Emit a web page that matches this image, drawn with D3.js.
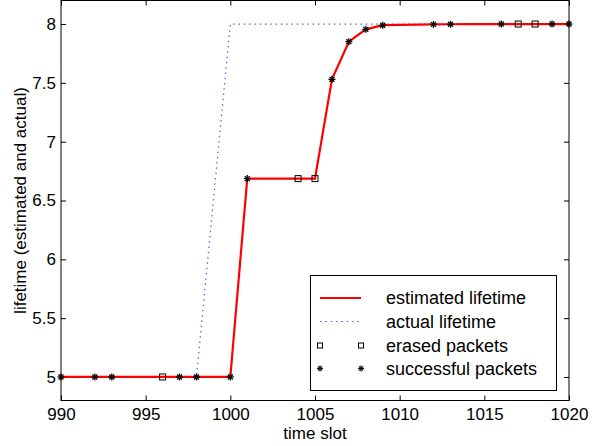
<!DOCTYPE html>
<html>
<head>
<meta charset="utf-8">
<script src="https://cdn.jsdelivr.net/npm/d3@7"></script>
<style>
  body { margin: 0; background: #fff; }
  text { font-family: "Liberation Sans", Arial, sans-serif; fill: #000; }
</style>
</head>
<body>
<svg id="chart"></svg>
<script>
// time slots and estimated lifetime at each slot
const slots = d3.range(990, 1021);
const estimated = [
  5, 5, 5, 5, 5, 5, 5, 5, 5, 5, 5,
  6.686, 6.686, 6.686, 6.686, 6.686,
  7.53, 7.85, 7.955, 7.99, 7.993, 7.995, 7.997, 7.998,
  8, 8, 8, 8, 8, 8, 8
];
// actual lifetime (step between 998 and 1000)
const actualSlots = [990, 998, 1000, 1020];
const actualValues = [5, 5, 8, 8];

const erasedSlots = [996, 1004, 1005, 1017, 1018];
const successSlots = [990, 992, 993, 997, 998, 1000, 1001, 1006, 1007, 1008, 1009, 1012, 1013, 1016, 1019, 1020];

const xTicks = [990, 995, 1000, 1005, 1010, 1015, 1020];
const yTicks = [5, 5.5, 6, 6.5, 7, 7.5, 8];
const legendLabels = ["estimated lifetime", "actual lifetime", "erased packets", "successful packets"];

const width = 600, height = 446;
const margin = { top: 0.5, right: 31, bottom: 45.5, left: 61 };

const svg = d3.select("#chart").attr("width", width).attr("height", height);

const x = d3.scaleLinear().domain([990, 1020]).range([margin.left, width - margin.right]);
const y = d3.scaleLinear().domain([4.8, 8.2]).range([height - margin.bottom, margin.top]);

const estBySlot = new Map(slots.map((s, i) => [s, estimated[i]]));

// axes (ticks inward, mirrored)
const tickLen = 5;
svg.append("g")
  .attr("transform", `translate(0,${y(4.8)})`)
  .call(d3.axisBottom(x).tickValues(xTicks).tickSize(-tickLen).tickPadding(7.5).tickFormat(d3.format("d")))
  .call(g => g.select(".domain").remove());
svg.append("g")
  .attr("transform", `translate(0,${y(8.2)})`)
  .call(d3.axisTop(x).tickValues(xTicks).tickSize(-tickLen).tickFormat(""))
  .call(g => g.select(".domain").remove());
svg.append("g")
  .attr("transform", `translate(${x(990)},0)`)
  .call(d3.axisLeft(y).tickValues(yTicks).tickSize(-tickLen).tickPadding(5).tickFormat(d => d))
  .call(g => g.select(".domain").remove());
svg.append("g")
  .attr("transform", `translate(${x(1020)},0)`)
  .call(d3.axisRight(y).tickValues(yTicks).tickSize(-tickLen).tickFormat(""))
  .call(g => g.select(".domain").remove());

svg.selectAll(".tick text").style("font-size", "17px").style("font-family", "Liberation Sans, Arial, sans-serif");
svg.selectAll(".tick line").attr("stroke", "#000");

// frame
svg.append("rect")
  .attr("x", x(990)).attr("y", y(8.2))
  .attr("width", x(1020) - x(990)).attr("height", y(4.8) - y(8.2))
  .attr("fill", "none").attr("stroke", "#000").attr("stroke-width", 1);

// actual lifetime
svg.append("path")
  .datum(actualSlots.map((s, i) => [s, actualValues[i]]))
  .attr("fill", "none")
  .attr("stroke", "#5a5aff")
  .attr("stroke-width", 1.2)
  .attr("stroke-dasharray", "1.5,3.8")
  .attr("d", d3.line().x(d => x(d[0])).y(d => y(d[1])));

// estimated lifetime
svg.append("path")
  .datum(slots.map((s, i) => [s, estimated[i]]))
  .attr("fill", "none")
  .attr("stroke", "#ff0000")
  .attr("stroke-width", 2.2)
  .attr("d", d3.line().x(d => x(d[0])).y(d => y(d[1])));

// markers
function star(g, size, sw) {
  const r = size / 2;
  for (let a = 0; a < 180; a += 45) {
    const t = a * Math.PI / 180;
    g.append("line")
      .attr("x1", -r * Math.cos(t)).attr("y1", -r * Math.sin(t))
      .attr("x2", r * Math.cos(t)).attr("y2", r * Math.sin(t))
      .attr("stroke", "#000").attr("stroke-width", sw);
  }
}
function square(g, size) {
  g.append("rect")
    .attr("x", -size / 2).attr("y", -size / 2)
    .attr("width", size).attr("height", size)
    .attr("fill", "none").attr("stroke", "#000").attr("stroke-width", 1);
}

svg.append("g").selectAll("g")
  .data(erasedSlots)
  .join("g")
  .attr("transform", d => `translate(${x(d)},${y(estBySlot.get(d))})`)
  .each(function () { square(d3.select(this), 6); });

svg.append("g").selectAll("g")
  .data(successSlots)
  .join("g")
  .attr("transform", d => `translate(${x(d)},${y(estBySlot.get(d))})`)
  .each(function () { star(d3.select(this), 7, 1.3); });

// legend
const lg = svg.append("g");
lg.append("rect")
  .attr("x", 310.5).attr("y", 275.5).attr("width", 246).attr("height", 115)
  .attr("fill", "#fff").attr("stroke", "#000").attr("stroke-width", 1);
const rowY = [298, 321.5, 345.5, 368.5];
const x0 = 320, x1 = 361;
lg.append("line").attr("x1", x0).attr("x2", x1).attr("y1", rowY[0]).attr("y2", rowY[0])
  .attr("stroke", "#ff0000").attr("stroke-width", 2.2);
lg.append("line").attr("x1", x0).attr("x2", x1).attr("y1", rowY[1]).attr("y2", rowY[1])
  .attr("stroke", "#5a5aff").attr("stroke-width", 1.2).attr("stroke-dasharray", "1.5,3.8");
[x0, x1].forEach(px => {
  square(lg.append("g").attr("transform", `translate(${px},${rowY[2]})`), 5);
  star(lg.append("g").attr("transform", `translate(${px},${rowY[3]})`), 6, 1.1);
});
lg.selectAll("text.lbl")
  .data(legendLabels)
  .join("text")
  .attr("class", "lbl")
  .attr("x", 386)
  .attr("y", (d, i) => rowY[i] + 6)
  .style("font-size", "18px")
  .text(d => d);

// axis titles
svg.append("text")
  .attr("x", (x(990) + x(1020)) / 2).attr("y", 439)
  .attr("text-anchor", "middle")
  .style("font-size", "17px")
  .text("time slot");
svg.append("text")
  .attr("transform", `translate(26,${(y(4.8) + y(8.2)) / 2}) rotate(-90)`)
  .attr("text-anchor", "middle")
  .style("font-size", "17px")
  .text("lifetime (estimated and actual)");
</script>
</body>
</html>
